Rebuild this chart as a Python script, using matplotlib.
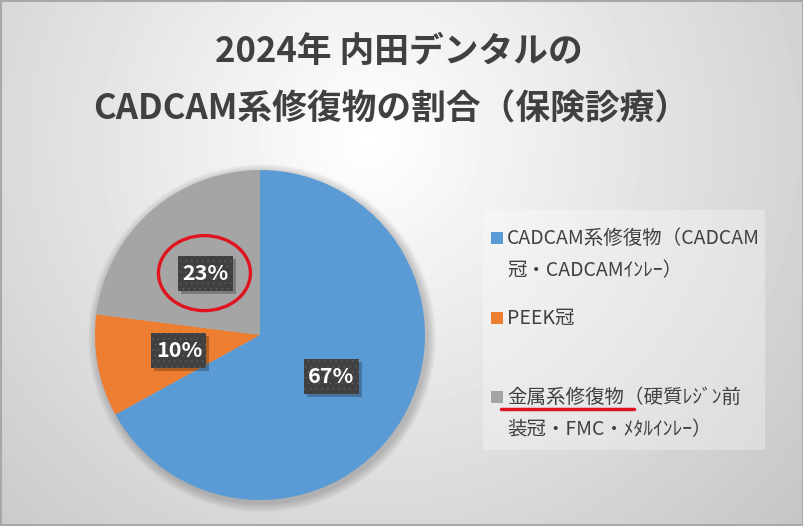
import numpy as np
import matplotlib
matplotlib.use('Agg')
import matplotlib.pyplot as plt
from matplotlib.patches import Rectangle, Ellipse, Circle

plt.rcParams['font.family'] = ['Noto Sans CJK JP', 'DejaVu Sans']
plt.rcParams['hatch.linewidth'] = 0.4

title_lines = ['2024年 内田デンタルの', 'CADCAM系修復物の割合（保険診療）']
categories = ['CADCAM系修復物（CADCAM\n冠・CADCAMｲﾝﾚｰ）',
              'PEEK冠',
              '金属系修復物（硬質ﾚｼﾞﾝ前\n装冠・FMC・ﾒﾀﾙｲﾝﾚｰ）']
values = [67, 10, 23]
colors = ['#5B9BD5', '#ED7D31', '#A5A5A5']

W, H = 804, 526
fig = plt.figure(figsize=(W / 100, H / 100), dpi=100)
ax = fig.add_axes([0, 0, 1, 1])

# radial gradient background
yy, xx = np.mgrid[0:H, 0:W]
rr = np.hypot(xx - 370, yy - 140)
v = np.clip(255 - 0.1 * rr, 0, 255) / 255
ax.imshow(v, cmap='gray', vmin=0, vmax=1, extent=(0, W, 0, H), origin='upper',
          zorder=0, interpolation='bilinear', aspect='auto')

# pie
cx, cy, R = 260, H - 335, 165
for i in range(10):
    ax.add_patch(Circle((cx + 2, cy - 3), R + 1 + i * 0.9, fc='black', ec='none',
                        alpha=0.018, zorder=1))
wedges, texts, autotexts = ax.pie(
    values, colors=colors, startangle=90, counterclock=False,
    center=(cx, cy), radius=R, autopct='%1.0f%%', pctdistance=0.5, frame=True,
    wedgeprops=dict(linewidth=0),
    textprops=dict(color='white', fontsize=15.5, fontweight='bold'))
for w in wedges:
    w.set_zorder(2)

bw, bh = 55, 35
for t in autotexts:
    x, y = t.get_position()
    t.set_zorder(6)
    t.set_va('center')
    t.set_ha('center')
    ax.add_patch(Rectangle((x - bw / 2 + 3, y - bh / 2 - 3), bw, bh, fc='black',
                           ec='none', alpha=0.25, zorder=4))
    ax.add_patch(Rectangle((x - bw / 2, y - bh / 2), bw, bh, fc='#404040',
                           ec='#5e5e5e', lw=0, hatch='...', zorder=5))

# red ellipse around gray label
gx, gy = autotexts[2].get_position()
ax.add_patch(Ellipse((gx - 1, gy), 92, 75, fill=False, ec='#E0141E', lw=2.4, zorder=7))

# legend
ax.add_patch(Rectangle((483, H - 450), 282, 240, fc='white', ec='none', alpha=0.3, zorder=3))
item_y = [238, 318, 397]
line_gap = 33
for i, (lab, col) in enumerate(zip(categories, colors)):
    y0 = H - item_y[i]
    ax.add_patch(Rectangle((491, y0 - 6), 12, 12, fc=col, ec='none', zorder=6))
    for j, line in enumerate(lab.split('\n')):
        ax.text(507, y0 - j * line_gap, line, fontsize=14, color='#404040',
                va='center', ha='left', zorder=6)
ax.plot([501, 634], [H - 409, H - 409], color='#E0141E', lw=2.5,
        solid_capstyle='round', zorder=7)

# title
ax.text(399, H - 51, title_lines[0], fontsize=25, fontweight='bold', ha='center',
        va='center', color='#404040', zorder=6)
ax.text(391, H - 109, title_lines[1], fontsize=25, fontweight='bold', ha='center',
        va='center', color='#404040', zorder=6)

# border
ax.add_patch(Rectangle((0.75, 0.75), W - 1.5, H - 1.5, fill=False, ec='#a8a8a8',
                       lw=1.5, zorder=8))

ax.set_xlim(0, W)
ax.set_ylim(0, H)
ax.axis('off')
fig.savefig('out.png', dpi=100)
